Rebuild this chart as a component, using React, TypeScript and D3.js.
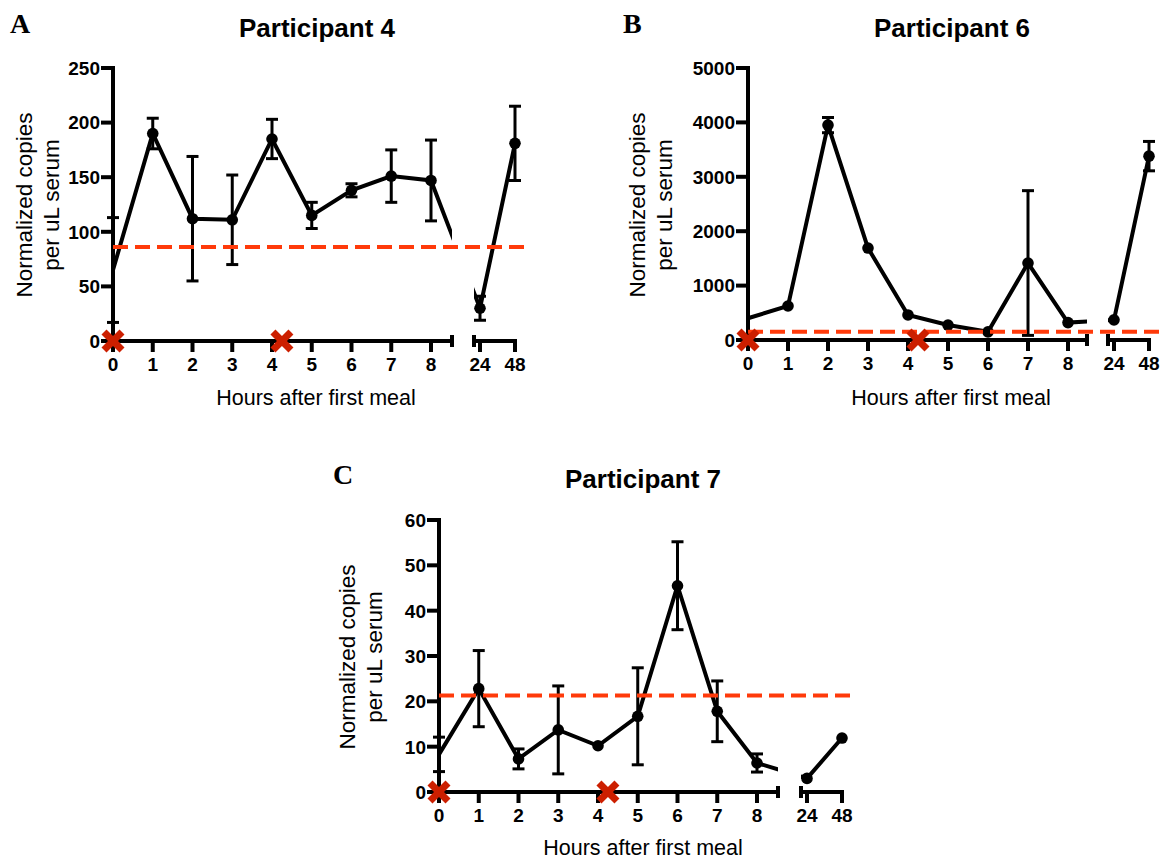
import React from "react";
import * as d3 from "d3";

// ---------- data ----------
const hours = [0, 1, 2, 3, 4, 5, 6, 7, 8, 24, 48];
const earlyHours = [0, 1, 2, 3, 4, 5, 6, 7, 8];
const lateHours = ["24", "48"];
const mealHours = [0, 4.25];

const p4Mean = [65, 190, 112, 111, 185, 115, 138, 151, 147, 30, 181];
const p4Err = [48, 14, 57, 41, 18, 12, 6, 24, 37, 11, 34];
const p4Threshold = 86;
const p4YTicks = [0, 50, 100, 150, 200, 250];

const p6Mean = [400, 625, 3950, 1690, 460, 275, 150, 1415, 320, 370, 3380];
const p6Err = [0, 0, 140, 0, 0, 0, 0, 1330, 0, 0, 270];
const p6Threshold = 150;
const p6YTicks = [0, 1000, 2000, 3000, 4000, 5000];

const p7Mean = [8.3, 22.8, 7.3, 13.7, 10.2, 16.7, 45.5, 17.8, 6.4, 3.0, 11.9];
const p7Err = [3.8, 8.4, 2.2, 9.7, 0, 10.7, 9.7, 6.7, 2.0, 0, 0];
const p7Threshold = 21.3;
const p7YTicks = [0, 10, 20, 30, 40, 50, 60];

const titles = ["Participant 4", "Participant 6", "Participant 7"];
const panelLetters = ["A", "B", "C"];
const yLabelLines = ["Normalized copies", "per uL serum"];
const xLabel = "Hours after first meal";

// ---------- layout ----------
type Layout = {
  axisY: number; yTop: number; x0: number; x8: number; brk1: number; brk2: number;
  x24: number; x48: number; dashEnd: number;
  titleX: number; titleY: number; letterX: number; letterY: number;
  yLabX: number; yLabY: number; xLabX: number; xLabY: number;
};

const layouts: Layout[] = [
  { axisY: 341, yTop: 68, x0: 113, x8: 431, brk1: 452, brk2: 474, x24: 480, x48: 515, dashEnd: 526,
    titleX: 317, titleY: 37, letterX: 10, letterY: 33, yLabX: 32, yLabY: 205, xLabX: 316, xLabY: 405 },
  { axisY: 340, yTop: 68, x0: 748, x8: 1068, brk1: 1087, brk2: 1108, x24: 1114, x48: 1149, dashEnd: 1159,
    titleX: 952, titleY: 37, letterX: 623, letterY: 33, yLabX: 645, yLabY: 205, xLabX: 951, xLabY: 405 },
  { axisY: 792, yTop: 520, x0: 439, x8: 757, brk1: 778, brk2: 801, x24: 807, x48: 842, dashEnd: 851,
    titleX: 643, titleY: 488, letterX: 333, letterY: 484, yLabX: 355, yLabY: 657, xLabX: 643, xLabY: 855 },
];

const SANS = "'Liberation Sans', Arial, Helvetica, sans-serif";
const SERIF = "'Liberation Serif', 'Times New Roman', serif";
const RED_LINE = "#ff3a0a";
const RED_X = "#cc1f00";

type PanelProps = {
  idx: number;
  mean: number[];
  err: number[];
  threshold: number;
  yTicks: number[];
  layout: Layout;
};

function Panel({ idx, mean, err, threshold, yTicks, layout: L }: PanelProps) {
  const y = d3.scaleLinear().domain([0, d3.max(yTicks) as number]).range([L.axisY, L.yTop]);
  const xEarly = d3.scaleLinear().domain([0, 8]).range([L.x0, L.x8]);
  const xLate = d3.scalePoint<string>().domain(lateHours).range([L.x24, L.x48]);
  const xPos = (h: number) => (h <= 8 ? xEarly(h) : (xLate(String(h)) as number));

  const pts = hours.map((h, i) => ({ h, m: mean[i], e: err[i] }));
  const line = d3.line<{ h: number; m: number }>().x((d) => xPos(d.h)).y((d) => y(d.m));
  const clipA = `clipA${idx}`;
  const clipB = `clipB${idx}`;
  const capH = 6;

  return (
    <g>
      <defs>
        <clipPath id={clipA}>
          <rect x={0} y={0} width={L.brk1} height={863} />
        </clipPath>
        <clipPath id={clipB}>
          <rect x={L.brk2} y={0} width={1165 - L.brk2} height={863} />
        </clipPath>
      </defs>

      {/* panel letter and title */}
      <text x={L.letterX} y={L.letterY} fontFamily={SERIF} fontWeight="bold" fontSize={28}>
        {panelLetters[idx]}
      </text>
      <text x={L.titleX} y={L.titleY} textAnchor="middle" fontFamily={SANS} fontWeight="bold" fontSize={26}>
        {titles[idx]}
      </text>

      {/* y axis */}
      <line x1={L.x0} x2={L.x0} y1={L.yTop - 2} y2={L.axisY + 2} stroke="#000" strokeWidth={4} />
      {yTicks.map((t) => (
        <g key={t}>
          <line x1={L.x0 - 12} x2={L.x0} y1={y(t)} y2={y(t)} stroke="#000" strokeWidth={4} />
          <text x={L.x0 - 13} y={y(t)} dy="0.36em" textAnchor="end" fontFamily={SANS} fontWeight="bold" fontSize={19}>
            {t}
          </text>
        </g>
      ))}
      <text transform={`translate(${L.yLabX},${L.yLabY}) rotate(-90)`} textAnchor="middle" fontFamily={SANS} fontSize={22.5}>
        <tspan x={0} y={0}>{yLabelLines[0]}</tspan>
        <tspan x={0} y={27}>{yLabelLines[1]}</tspan>
      </text>

      {/* x axis: early segment */}
      <line x1={L.x0} x2={L.brk1} y1={L.axisY} y2={L.axisY} stroke="#000" strokeWidth={4} />
      <line x1={L.brk1} x2={L.brk1} y1={L.axisY - capH} y2={L.axisY + capH} stroke="#000" strokeWidth={4} />
      {earlyHours.map((h) => (
        <g key={h}>
          <line x1={xEarly(h)} x2={xEarly(h)} y1={L.axisY} y2={L.axisY + 11} stroke="#000" strokeWidth={4} />
          <text x={xEarly(h)} y={L.axisY + 30} textAnchor="middle" fontFamily={SANS} fontWeight="bold" fontSize={19}>
            {h}
          </text>
        </g>
      ))}
      {/* x axis: late segment */}
      <line x1={L.brk2} x2={L.x48 + 2} y1={L.axisY} y2={L.axisY} stroke="#000" strokeWidth={4} />
      <line x1={L.brk2} x2={L.brk2} y1={L.axisY - capH} y2={L.axisY + capH} stroke="#000" strokeWidth={4} />
      {lateHours.map((h) => (
        <g key={h}>
          <line x1={xLate(h)} x2={xLate(h)} y1={L.axisY} y2={L.axisY + 11} stroke="#000" strokeWidth={4} />
          <text x={xLate(h)} y={L.axisY + 30} textAnchor="middle" fontFamily={SANS} fontWeight="bold" fontSize={19}>
            {h}
          </text>
        </g>
      ))}
      <text x={L.xLabX} y={L.xLabY} textAnchor="middle" fontFamily={SANS} fontSize={21.5}>
        {xLabel}
      </text>

      {/* data line (broken at axis gap) */}
      {[clipA, clipB].map((c) => (
        <path key={c} d={line(pts) as string} fill="none" stroke="#000" strokeWidth={4} strokeLinejoin="miter" clipPath={`url(#${c})`} />
      ))}

      {/* error bars */}
      {pts.filter((p) => p.e > 0).map((p) => {
        const cx = xPos(p.h);
        return (
          <g key={`e${p.h}`} stroke="#000" strokeWidth={3}>
            <line x1={cx} x2={cx} y1={y(p.m - p.e)} y2={y(p.m + p.e)} />
            <line x1={cx - 6} x2={cx + 6} y1={y(p.m + p.e)} y2={y(p.m + p.e)} />
            <line x1={cx - 6} x2={cx + 6} y1={y(p.m - p.e)} y2={y(p.m - p.e)} />
          </g>
        );
      })}

      {/* points (baseline sample at hour 0 has no marker) */}
      {pts.filter((p) => p.h > 0).map((p) => (
        <circle key={`p${p.h}`} cx={xPos(p.h)} cy={y(p.m)} r={5.8} fill="#000" />
      ))}

      {/* threshold */}
      <line x1={L.x0} x2={L.dashEnd} y1={y(threshold)} y2={y(threshold)} stroke={RED_LINE} strokeWidth={4} strokeDasharray="15,7" />

      {/* meal markers */}
      {mealHours.map((h) => {
        const cx = xEarly(h);
        const cy = L.axisY;
        const a = 9;
        return (
          <g key={`m${h}`} stroke={RED_X} strokeWidth={7}>
            <line x1={cx - a} y1={cy - a} x2={cx + a} y2={cy + a} />
            <line x1={cx - a} y1={cy + a} x2={cx + a} y2={cy - a} />
          </g>
        );
      })}
    </g>
  );
}

export default function App() {
  return (
    <svg width={1165} height={863} style={{ position: "absolute", left: 0, top: 0, background: "#fff" }}>
      <rect width={1165} height={863} fill="#fff" />
      <Panel idx={0} mean={p4Mean} err={p4Err} threshold={p4Threshold} yTicks={p4YTicks} layout={layouts[0]} />
      <Panel idx={1} mean={p6Mean} err={p6Err} threshold={p6Threshold} yTicks={p6YTicks} layout={layouts[1]} />
      <Panel idx={2} mean={p7Mean} err={p7Err} threshold={p7Threshold} yTicks={p7YTicks} layout={layouts[2]} />
    </svg>
  );
}
